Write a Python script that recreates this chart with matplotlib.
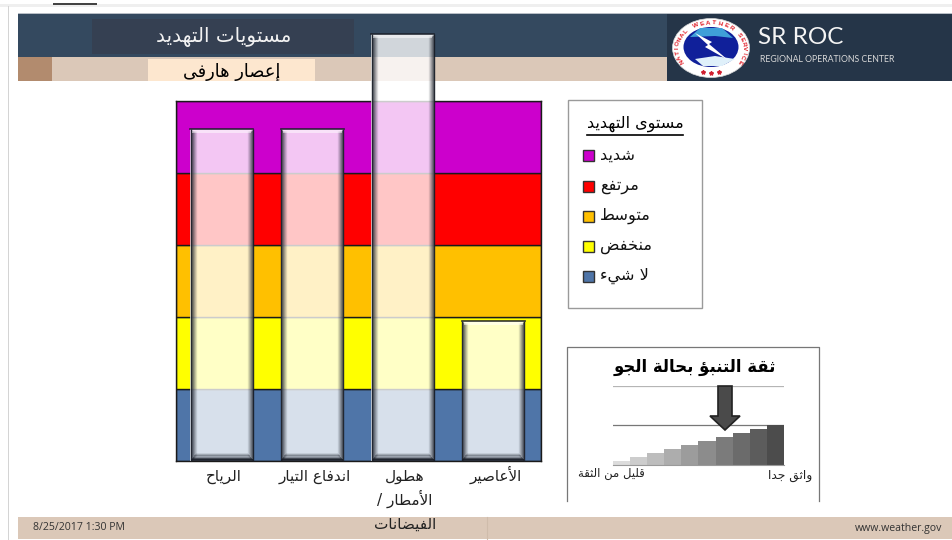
import unicodedata
import numpy as np
import matplotlib
matplotlib.use('Agg')
from matplotlib import pyplot as plt
from matplotlib.patches import Rectangle, Ellipse, Polygon

categories = ['الرياح', 'اندفاع التيار', 'هطول\nالأمطار /\nالفيضانات', 'الأعاصير']
threat_values = [4.61, 4.61, 5.93, 1.94]

level_names = ['لا شيء', 'منخفض', 'متوسط', 'مرتفع', 'شديد']
level_colors = ['#4f75a8', '#ffff00', '#ffc000', '#ff0000', '#cc00cc']

confidence_values = [1, 2, 3, 4, 5, 6, 7, 8, 9, 10]
confidence_colors = ['#dcdcdc', '#cdcdcd', '#bdbdbd', '#adadad', '#9c9c9c',
                     '#8c8c8c', '#7b7b7b', '#6b6b6b', '#5c5c5c', '#4c4c4c']

title_text = 'مستويات التهديد'
subtitle_text = 'إعصار هارفى'
legend_title = 'مستوى التهديد'
confidence_title = 'ثقة التنبؤ بحالة الجو'
confidence_low = 'قليل من الثقة'
confidence_high = 'واثق جدا'

W, H = 953, 540


# matplotlib does not shape arabic, so pick the presentation forms by hand
def build_forms():
    forms = {}
    for code in range(0xFE70, 0xFEFD):
        parts = unicodedata.decomposition(chr(code)).split()
        if len(parts) < 2 or parts[0] not in ('<isolated>', '<final>', '<initial>', '<medial>'):
            continue
        key = ''.join(chr(int(p, 16)) for p in parts[1:])
        forms.setdefault(key, {})[parts[0].strip('<>')] = chr(code)
    return forms


FORMS = build_forms()


def ar(text):
    lines = []
    for line in text.split('\n'):
        tokens = []
        i = 0
        while i < len(line):
            if line[i:i + 2] in FORMS:
                tokens.append(line[i:i + 2])
                i += 2
            else:
                tokens.append(line[i])
                i += 1
        out = []
        for i, t in enumerate(tokens):
            if t not in FORMS:
                out.append(t)
                continue
            prev = tokens[i - 1] if i > 0 else ''
            nxt = tokens[i + 1] if i + 1 < len(tokens) else ''
            after_join = 'initial' in FORMS.get(prev, {})
            before_join = 'initial' in FORMS[t] and 'final' in FORMS.get(nxt, {})
            if after_join and before_join:
                out.append(FORMS[t]['medial'])
            elif after_join and 'final' in FORMS[t]:
                out.append(FORMS[t]['final'])
            elif before_join:
                out.append(FORMS[t]['initial'])
            else:
                out.append(FORMS[t].get('isolated', t))
        lines.append(''.join(reversed(out)))
    return '\n'.join(lines)


def pixel_axes(fig, x0, y0, x1, y1, **kw):
    return fig.add_axes([x0 / W, 1 - y1 / H, (x1 - x0) / W, (y1 - y0) / H], **kw)


def draw_logo(bg):
    cx, cy = 711, 48
    bg.add_patch(Ellipse((cx, cy), 77, 59, fc='white', ec='#d8d8d8', lw=0.5))
    bg.add_patch(Ellipse((cx, cy - 1), 55, 40, fc='#10209a', ec='none'))
    bg.add_patch(Polygon([(690, 37), (700, 28), (722, 28), (733, 38), (715, 36)], fc='#3f9fd8', ec='none'))
    bg.add_patch(Polygon([(695, 59), (715, 56), (735, 59), (722, 66), (703, 66)], fc='#dff0fa', ec='none'))
    bg.add_patch(Polygon([(695, 33), (712, 42), (709, 44), (728, 60), (705, 47), (708, 45)], fc='white', ec='none'))
    word = 'NATIONAL WEATHER SERVICE'
    angles = np.linspace(212, -32, len(word))
    for ch, t in zip(word, angles):
        rad = np.deg2rad(t)
        bg.text(cx + 33.5 * np.cos(rad), cy - 25 * np.sin(rad), ch, color='#e0202a', fontsize=4.6,
                fontweight='bold', rotation=t - 90, ha='center', va='center', family='Liberation Sans')
    bg.plot([703, 711, 719], [72, 73, 72], ls='none', marker='*', ms=3, color='#d02030')


def draw_bevel(ax, x, value, width):
    # dark rim fading inwards, like a powerpoint bevel
    y_px = 1 / 72.0
    x_px = 1 / 90.5
    left = x - width / 2
    for k, alpha in enumerate([0.95, 0.62, 0.46, 0.32, 0.2, 0.1]):
        inset_x = (k + 0.5) * x_px
        inset_y = (k + 0.5) * y_px
        # sides
        for side_x in (left + inset_x, left + width - inset_x):
            ax.plot([side_x, side_x], [inset_y, value - min(k, 2) * y_px], color=(0.1, 0.12, 0.16, alpha), lw=1,
                    clip_on=False, zorder=4, solid_capstyle='butt')
        # bottom band is a bit wider than the sides
        ax.plot([left + inset_x, left + width - inset_x], [1.3 * inset_y] * 2, color=(0.1, 0.12, 0.16, alpha),
                lw=1.4, clip_on=False, zorder=4, solid_capstyle='butt')
    ax.plot([left, left + width], [value, value], color=(0.1, 0.12, 0.16, 0.9), lw=1.2, clip_on=False, zorder=4)
    ax.add_patch(Rectangle((left + 2 * x_px, value - 3.5 * y_px), width - 4 * x_px, 2.5 * y_px,
                           fc=(1, 1, 1, 0.5), ec='none', clip_on=False, zorder=4))


fig = plt.figure(figsize=(W / 100, H / 100), dpi=100, facecolor='white')

# page furniture
bg = pixel_axes(fig, 0, 0, W, H, zorder=0)
bg.set_xlim(0, W)
bg.set_ylim(H, 0)
bg.axis('off')
bg.add_patch(Rectangle((0, 4), W, 3, fc='#efefef', ec='none'))
bg.add_patch(Rectangle((53, 3), 44, 2, fc='#444444', ec='none'))
bg.add_patch(Rectangle((8, 6), 1.2, H, fc='#d4d4d4', ec='none'))
bg.add_patch(Rectangle((18, 13), 649, 44, fc='#34495f', ec='none'))
bg.add_patch(Rectangle((667, 13), W - 667, 68, fc='#253548', ec='none'))
bg.add_patch(Rectangle((18, 13), W - 18, 1, fc='#b8bec6', ec='none'))
bg.add_patch(Rectangle((92, 19), 262, 35, fc='#354052', ec='none'))
bg.add_patch(Rectangle((18, 57), 649, 24, fc='#dbc8b8', ec='none'))
bg.add_patch(Rectangle((18, 57), 34, 24, fc='#b28b6e', ec='none'))
bg.add_patch(Rectangle((148, 59), 167, 22, fc='#fde7cf', ec='none'))
bg.add_patch(Rectangle((18, 517), W - 18, 22, fc='#dbc8b8', ec='none'))
bg.plot([487, 487], [517, 539], color='#cfbcab', lw=0.8)

bg.text(224, 37, ar(title_text), color='#f2f2f2', fontsize=14.3, ha='center', va='center')
bg.text(232, 72, ar(subtitle_text), color='black', fontsize=12.8, ha='center', va='center')
draw_logo(bg)
bg.text(758, 38, 'SR ROC', color='#f4f4f4', fontsize=17.5, ha='left', va='center', family='Lato')
bg.text(760, 60, 'REGIONAL OPERATIONS CENTER', color='#d8d8d8', fontsize=6.3, ha='left', va='center',
        family='Lato')
bg.text(33, 528, '8/25/2017 1:30 PM', color='#333333', fontsize=7.6, ha='left', va='center', family='Open Sans')
bg.text(942, 528, 'www.weather.gov', color='#333333', fontsize=7.6, ha='right', va='center', family='Open Sans')

# legend panel
bg.add_patch(Rectangle((568, 100), 134, 208, fc='white', ec='#9a9a9a', lw=1))
bg.text(635, 124, ar(legend_title), color='black', fontsize=11.5, ha='center', va='center')
bg.plot([587, 683], [135, 135], color='black', lw=1.2)
legend_y = [155, 186, 216, 246, 276]
for y, name, color in zip(legend_y, reversed(level_names), reversed(level_colors)):
    bg.add_patch(Rectangle((583, y - 5.5), 11, 11, fc=color, ec='#333333', lw=1))
    bg.text(600, y, ar(name), color='#111111', fontsize=11.6, ha='left', va='center')

# confidence panel frame
bg.plot([567, 567, 819, 819], [501, 346.5, 346.5, 501], color='#777777', lw=0.9)
bg.text(694.5, 367, ar(confidence_title), color='black', fontsize=11.9, fontweight='bold', ha='center', va='center')
bg.text(611.5, 474, ar(confidence_low), color='#222222', fontsize=8.4, ha='center', va='center')
bg.text(790, 476, ar(confidence_high), color='#222222', fontsize=8.8, ha='center', va='center')

# threat chart
ax = pixel_axes(fig, 176, 101, 541, 461, zorder=2)
ax.patch.set_alpha(0)
ax.set_xlim(-0.503, 3.53)
ax.set_ylim(0, 5)
for i, color in enumerate(level_colors):
    ax.axhspan(i, i + 1, fc=color, ec='#1a1a1a', lw=1, zorder=1)
x = np.arange(len(categories))
bar_width = 63 / 90.5
ax.bar(x, threat_values, width=bar_width, color=(1, 1, 1, 0.78), edgecolor='none', clip_on=False, zorder=3)
for xi, v in zip(x, threat_values):
    draw_bevel(ax, xi, v, bar_width)
ax.set_xticks(x)
ax.set_xticklabels([])
ax.set_yticks([])
ax.tick_params(axis='x', length=0)
# one annotation per line so the first baselines stay level
for xi, label in zip(x, categories):
    for n, line in enumerate(label.split('\n')):
        ax.annotate(ar(line), xy=(xi + 0.025, 0), xycoords=('data', 'axes fraction'),
                    xytext=(0, -14.5 - n * 17), textcoords='offset points',
                    ha='center', va='baseline', fontsize=11, color='#222222', annotation_clip=False)
for side in ax.spines.values():
    side.set_color('#1a1a1a')
    side.set_linewidth(1)

# confidence mini chart
cx = pixel_axes(fig, 613, 386, 784, 464.5, zorder=2)
cx.patch.set_alpha(0)
cx.bar(np.arange(len(confidence_values)), confidence_values, width=1.0, color=confidence_colors,
       edgecolor='none', zorder=2)
cx.set_xlim(-0.5, 9.5)
cx.set_ylim(0, 20)
cx.set_yticks([10, 20])
cx.set_yticklabels([])
cx.set_xticks([])
cx.yaxis.grid(True, color='#b5b5b5', lw=0.9)
cx.get_ygridlines()[0].set_color('#777777')
cx.tick_params(length=0)
for name, side in cx.spines.items():
    side.set_visible(name == 'bottom')
    side.set_color('#9a9a9a')

# arrow sits over the mini chart
over = pixel_axes(fig, 0, 0, W, H, zorder=3)
over.set_xlim(0, W)
over.set_ylim(H, 0)
over.axis('off')
over.add_patch(Polygon([(718, 386), (732, 386), (732, 416), (740, 416), (725, 430), (710, 416), (718, 416)],
                       fc='#4a4a4a', ec='#222222', lw=1.2))

plt.savefig('out.png', dpi=100)
